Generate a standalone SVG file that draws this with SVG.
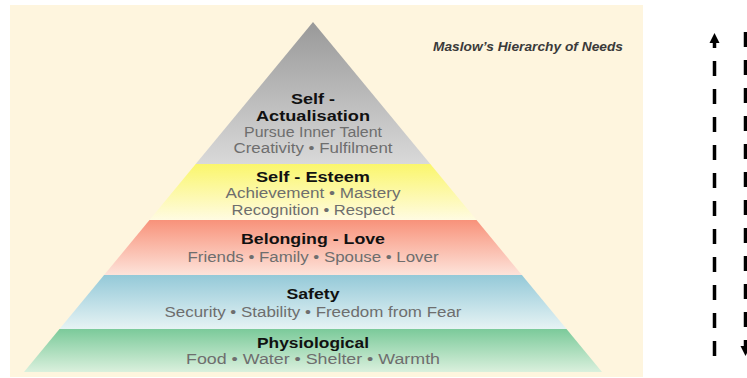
<svg xmlns="http://www.w3.org/2000/svg" width="747" height="378" viewBox="0 0 747 378">
<style>
.h{font-family:"Liberation Sans",Arial,sans-serif;font-size:14.5px;font-weight:bold;fill:#111;text-anchor:middle}
.s{font-family:"Liberation Sans",Arial,sans-serif;font-size:14px;fill:#6e6e6e;text-anchor:middle}
.t{font-family:"Liberation Sans",Arial,sans-serif;font-size:13px;font-style:italic;font-weight:bold;fill:#3a3a3a}
.dash{fill:none;stroke:#000;stroke-width:3.5;stroke-dasharray:15 13}
</style>
<defs>
<linearGradient id="gGray" x1="0" y1="0" x2="0" y2="1"><stop offset="0" stop-color="#999"/><stop offset="1" stop-color="#d9d9d9"/></linearGradient>
<linearGradient id="gYel" x1="0" y1="0" x2="0" y2="1"><stop offset="0" stop-color="#faf66c"/><stop offset="1" stop-color="#fffbe2"/></linearGradient>
<linearGradient id="gRed" x1="0" y1="0" x2="0" y2="1"><stop offset="0" stop-color="#f8927a"/><stop offset="1" stop-color="#fde3da"/></linearGradient>
<linearGradient id="gBlue" x1="0" y1="0" x2="0" y2="1"><stop offset="0" stop-color="#94c9d8"/><stop offset="1" stop-color="#e6f3f4"/></linearGradient>
<linearGradient id="gGreen" x1="0" y1="0" x2="0" y2="1"><stop offset="0" stop-color="#7bca9a"/><stop offset="1" stop-color="#daf0dd"/></linearGradient>
<marker id="ah" viewBox="0 0 10 10" refX="3" refY="5" markerWidth="10" markerHeight="11" markerUnits="userSpaceOnUse" orient="auto"><path d="M0,0 L10,5 L0,10 z" fill="#000"/></marker>
</defs>
<rect x="10" y="5" width="633" height="372" fill="#fef5de"/>
<g id="title"><text class="t" x="433" y="51" textLength="190" lengthAdjust="spacingAndGlyphs">Maslow’s Hierarchy of Needs</text></g>
<g id="self-actualisation">
<polygon points="313,22 430.3,164 195.7,164" fill="url(#gGray)"/>
<text class="h" x="313" y="104" textLength="44" lengthAdjust="spacingAndGlyphs">Self -</text>
<text class="h" x="313" y="121" textLength="114" lengthAdjust="spacingAndGlyphs">Actualisation</text>
<text class="s" x="313" y="137" textLength="138" lengthAdjust="spacingAndGlyphs">Pursue Inner Talent</text>
<text class="s" x="313" y="153" textLength="159" lengthAdjust="spacingAndGlyphs">Creativity • Fulfilment</text>
</g>
<g id="self-esteem">
<polygon points="195.7,164 430.3,164 476.5,220 149.5,220" fill="url(#gYel)"/>
<text class="h" x="313" y="182" textLength="114" lengthAdjust="spacingAndGlyphs">Self - Esteem</text>
<text class="s" x="313" y="198" textLength="175" lengthAdjust="spacingAndGlyphs">Achievement • Mastery</text>
<text class="s" x="313" y="215" textLength="163" lengthAdjust="spacingAndGlyphs">Recognition • Respect</text>
</g>
<g id="belonging-love">
<polygon points="149.5,220 476.5,220 521.9,275 104.1,275" fill="url(#gRed)"/>
<text class="h" x="313" y="244" textLength="144" lengthAdjust="spacingAndGlyphs">Belonging - Love</text>
<text class="s" x="313" y="262" textLength="251" lengthAdjust="spacingAndGlyphs">Friends • Family • Spouse • Lover</text>
</g>
<g id="safety">
<polygon points="104.1,275 521.9,275 566.5,329 59.5,329" fill="url(#gBlue)"/>
<text class="h" x="313" y="299" textLength="53" lengthAdjust="spacingAndGlyphs">Safety</text>
<text class="s" x="313" y="317" textLength="297" lengthAdjust="spacingAndGlyphs">Security • Stability • Freedom from Fear</text>
</g>
<g id="physiological">
<polygon points="59.5,329 566.5,329 602,372 24,372" fill="url(#gGreen)"/>
<text class="h" x="313" y="348" textLength="112" lengthAdjust="spacingAndGlyphs">Physiological</text>
<text class="s" x="313" y="364" textLength="254" lengthAdjust="spacingAndGlyphs">Food • Water • Shelter • Warmth</text>
</g>
<g id="connectors">
<path class="dash" d="M714.5,356 V40" marker-end="url(#ah)"/>
<path class="dash" d="M745.5,32 V349" marker-end="url(#ah)"/>
</g>
</svg>
